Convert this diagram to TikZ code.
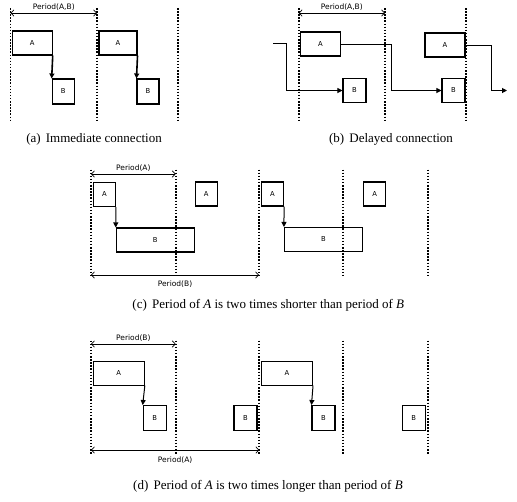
\documentclass[tikz,border=0pt]{standalone}
\usepackage{fontspec}
\setmainfont{Liberation Serif}
\newfontfamily\lblfont{DejaVu Sans}
\usetikzlibrary{arrows.meta}
\begin{document}
\begin{tikzpicture}[x=1pt,y=-1pt,
  box/.style={draw, line width=1.05pt, inner sep=0pt, font=\lblfont\fontsize{6.8}{7}\selectfont},
  boxA/.style={box, minimum width=40pt, minimum height=24pt},
  boxB/.style={box, minimum width=23pt, minimum height=24pt},
  boxW/.style={box, minimum width=78pt, minimum height=24pt},
  boxL/.style={box, minimum width=51pt, minimum height=23.5pt},
  dotline/.style={line width=1.9pt, dash pattern=on 1.5pt off 1.6pt},
  per/.style={line width=0.7pt, {Straight Barb[length=3pt,width=6.5pt]}-{Straight Barb[length=3pt,width=6.5pt]}},
  plabel/.style={font=\lblfont\fontsize{7.5}{8}\selectfont, inner sep=1pt},
  conn/.style={line width=1pt, -{Triangle[length=5pt,width=5pt]}},
  connthick/.style={line width=1.6pt, -{Triangle[length=5pt,width=5pt]}},
  captext/.style={font=\fontsize{13}{15}\selectfont, inner sep=0pt}
]
\useasboundingbox (0,0) rectangle (517,501);

% ---------------- (a) ----------------
\foreach \n/\x in {1/10.5,2/97,3/178}{
  \coordinate (da\n t) at (\x,8);
  \coordinate (da\n b) at (\x,122);
  \draw[dotline] (da\n t) -- (da\n b);
}
\coordinate (pa1) at (10.5,13);
\coordinate (pa2) at (97,13);
\draw[per] (pa1) -- node[above=1.2pt, plabel] {Period(A,B)} (pa2);
\node[boxA] (aA1) at (32.2,43) {A};
\node[boxB, minimum width=22pt, minimum height=25pt] (aB1) at (63.2,91.5) {B};
\node[boxA, minimum width=38pt] (aA2) at (118,43) {A};
\node[boxB, minimum width=22pt, minimum height=25pt] (aB2) at (148,91.5) {B};
\draw[connthick] (aA1.south east) -- (aB1.north west);
\draw[connthick] (aA2.south east) -- (aB2.north west);
\node[captext] (capa) at (94,139) {(a)\hspace{0.4em}Immediate connection};

% ---------------- (b) ----------------
\foreach \n/\x in {1/298.7,2/385,3/466}{
  \coordinate (db\n t) at (\x,8);
  \coordinate (db\n b) at (\x,121);
  \draw[dotline] (db\n t) -- (db\n b);
}
\coordinate (pb1) at (298.7,13);
\coordinate (pb2) at (385,13);
\draw[per] (pb1) -- node[above=1.2pt, plabel] {Period(A,B)} (pb2);
\node[boxA, minimum width=39.5pt] (bA1) at (320.5,44) {A};
\node[boxB] (bB1) at (354.5,90.5) {B};
\node[boxA] (bA2) at (445,45) {A};
\node[boxB] (bB2) at (453.5,90.5) {B};
\coordinate (bin) at (273,43);
\coordinate (bk1) at (286.3,43);
\coordinate (bk2) at (391.3,0);
\coordinate (bk3) at (491.3,0);
\coordinate (bout) at (507,90.5);
\draw[conn] (bin) -- (bk1) |- (bB1.west);
\draw[conn] (bA1.east) -- (bA1.east -| bk2) |- (bB2.west);
\draw[conn] (bA2.east) -- (bA2.east -| bk3) |- (bout);
\node[captext] (capb) at (391,139) {(b)\hspace{0.4em}Delayed connection};

% ---------------- (c) ----------------
\foreach \n/\x in {1/91,2/175.7,3/259,4/343.3,5/427.7}{
  \coordinate (dc\n t) at (\x,169.5);
  \coordinate (dc\n b) at (\x,276);
  \draw[dotline] (dc\n t) -- (dc\n b);
}
\coordinate (pc1) at (91,174);
\coordinate (pc2) at (175.7,174);
\draw[per] (pc1) -- node[above=1.2pt, plabel] {Period(A)} (pc2);
\coordinate (pc3) at (91,275);
\coordinate (pc4) at (259,275);
\draw[per] (pc3) -- node[below=4.5pt, plabel] {Period(B)} (pc4);
\node[boxB, minimum width=21.5pt] (cA1) at (104.5,194.5) {A};
\node[boxB, minimum width=22pt] (cA2) at (206.3,194) {A};
\node[boxW] (cB1) at (155.3,240) {B};
\node[boxB, minimum width=22pt] (cA3) at (272.5,194) {A};
\node[boxB, minimum width=22pt] (cA4) at (374.7,194) {A};
\node[boxW] (cB2) at (323.5,239.5) {B};
\draw[conn] (cA1.south east) -- (cB1.north west);
\draw[conn] (cA3.south east) -- (cB2.north west);
\node[captext] (capc) at (268.3,305.7) {(c)\hspace{0.4em}Period of \textit{A} is two times shorter than period of \textit{B}};

% ---------------- (d) ----------------
\foreach \n/\x in {1/91,2/175.7,3/259.3,4/343.3,5/427.7}{
  \coordinate (dd\n t) at (\x,340.5);
  \coordinate (dd\n b) at (\x,453.5);
  \draw[dotline] (dd\n t) -- (dd\n b);
}
\coordinate (pd1) at (91,344);
\coordinate (pd2) at (175.7,344);
\draw[per] (pd1) -- node[above=1.2pt, plabel] {Period(B)} (pd2);
\coordinate (pd3) at (91,450);
\coordinate (pd4) at (259.3,450);
\draw[per] (pd3) -- node[below=5pt, plabel] {Period(A)} (pd4);
\node[boxL] (dA1) at (118.8,373.3) {A};
\node[boxB, minimum height=24.5pt] (dB1) at (154.7,417.8) {B};
\node[boxB, minimum height=24.5pt] (dB2) at (245.5,417.8) {B};
\node[boxL] (dA2) at (287,373.3) {A};
\node[boxB, minimum height=24.5pt] (dB3) at (323.5,417.8) {B};
\node[boxB, minimum height=24.5pt] (dB4) at (413.8,417.8) {B};
\draw[conn] (dA1.south east) -- (dB1.north west);
\draw[conn] (dA2.south east) -- (dB3.north west);
\node[captext] (capd) at (268,486.7) {(d)\hspace{0.4em}Period of \textit{A} is two times longer than period of \textit{B}};
\end{tikzpicture}
\end{document}
